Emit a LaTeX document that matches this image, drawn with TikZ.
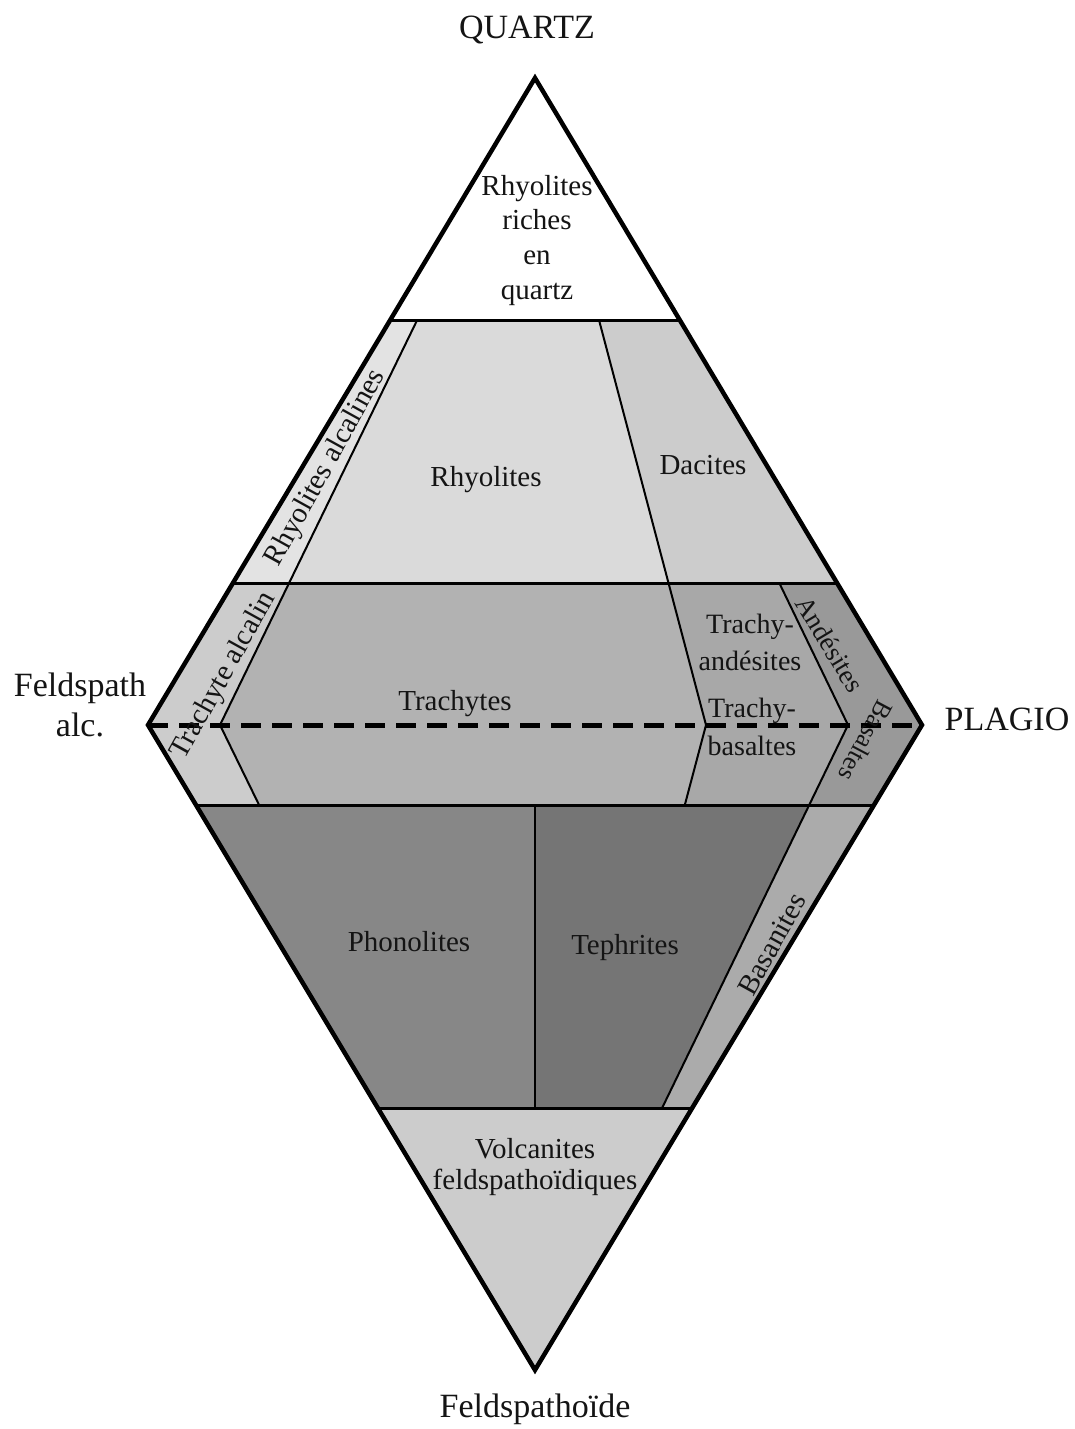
\documentclass[tikz,border=0pt]{standalone}
\usepackage{fontspec}
\setmainfont{Liberation Serif}
\definecolor{cQ}{gray}{1.0}
\definecolor{cRA}{gray}{0.89}
\definecolor{cR}{gray}{0.855}
\definecolor{cD}{gray}{0.80}
\definecolor{cTA}{gray}{0.80}
\definecolor{cT}{gray}{0.70}
\definecolor{cTB}{gray}{0.66}
\definecolor{cAB}{gray}{0.60}
\definecolor{cPh}{gray}{0.53}
\definecolor{cTe}{gray}{0.46}
\definecolor{cBa}{gray}{0.67}
\definecolor{cVF}{gray}{0.80}
\definecolor{ink}{gray}{0.08}
\begin{document}
\begin{tikzpicture}[x=1pt,y=-1pt,
  outer/.style={draw=black,line width=4.5pt,line join=miter},
  hline/.style={draw=black,line width=3pt},
  inner/.style={draw=black,line width=2pt},
  axisdash/.style={draw=black,line width=5pt,dash pattern=on 20pt off 11pt},
  corner/.style={text=ink,font=\fontsize{34}{40}\selectfont,inner sep=0pt},
  region/.style={text=ink,font=\fontsize{29}{34.7}\selectfont,inner sep=0pt,align=center}]
\useasboundingbox (0,0) rectangle (1074,1429);
\fill[white] (0,0) rectangle (1074,1429);
% apexes
\coordinate (Q) at (535,78);
\coordinate (A) at (148,725);
\coordinate (P) at (922,725);
\coordinate (F) at (535,1370);
% edge points
\coordinate (l320) at (390.25,320);
\coordinate (r320) at (679.75,320);
\coordinate (l583) at (232.9,583);
\coordinate (r583) at (837.1,583);
\coordinate (l805) at (196,805);
\coordinate (r805) at (874,805);
\coordinate (l1108) at (377.8,1108);
\coordinate (r1108) at (692.2,1108);
% points on the A-P axis
\coordinate (a10) at (220,725);
\coordinate (pd) at (706,725);
\coordinate (p90) at (848,725);
% inner line points
\coordinate (u1) at (417.2,320);
\coordinate (u2) at (289.1,583);
\coordinate (d1) at (599,320);
\coordinate (d2) at (668.5,583);
\coordinate (e1) at (779.3,583);
\coordinate (w1) at (259.1,805);
\coordinate (w2) at (684.8,805);
\coordinate (w3) at (809.2,805);
\coordinate (m805) at (535,805);
\coordinate (m1108) at (535,1108);
\coordinate (b1108) at (662.1,1108);
% fills
\fill[cQ] (Q) -- (l320) -- (r320) -- cycle;
\fill[cRA] (l320) -- (u1) -- (u2) -- (l583) -- cycle;
\fill[cR] (u1) -- (d1) -- (d2) -- (u2) -- cycle;
\fill[cD] (d1) -- (r320) -- (r583) -- (d2) -- cycle;
\fill[cTA] (l583) -- (u2) -- (a10) -- (w1) -- (l805) -- (A) -- cycle;
\fill[cT] (u2) -- (d2) -- (pd) -- (w2) -- (w1) -- (a10) -- cycle;
\fill[cTB] (d2) -- (e1) -- (p90) -- (w3) -- (w2) -- (pd) -- cycle;
\fill[cAB] (e1) -- (r583) -- (P) -- (r805) -- (w3) -- (p90) -- cycle;
\fill[cPh] (l805) -- (m805) -- (m1108) -- (l1108) -- cycle;
\fill[cTe] (m805) -- (w3) -- (b1108) -- (m1108) -- cycle;
\fill[cBa] (w3) -- (r805) -- (r1108) -- (b1108) -- cycle;
\fill[cVF] (l1108) -- (r1108) -- (F) -- cycle;
% inner boundaries
\draw[inner] (u1) -- (u2);
\draw[inner] (u2) -- (a10) -- (w1);
\draw[inner] (d1) -- (d2) -- (pd) -- (w2);
\draw[inner] (e1) -- (p90) -- (w3) -- (b1108);
\draw[inner] (m805) -- (m1108);
% horizontal boundaries
\draw[hline] (l320) -- (r320);
\draw[hline] (l583) -- (r583);
\draw[hline] (l805) -- (r805);
\draw[hline] (l1108) -- (r1108);
% outline
\draw[outer] (Q) -- (P) -- (F) -- (A) -- cycle;
% dashed axis
\draw[axisdash] (A) -- (P);
% corner labels
\node[corner,anchor=base] (qz) at (527,39) {QUARTZ};
\node[corner,align=center] (fa) at (80,705.4) {Feldspath\\alc.};
\node[corner,anchor=base] (pl) at (1007,730) {PLAGIO};
\node[corner,anchor=base] (fd) at (535,1417) {Feldspathoïde};
% region labels
\node[region] (rq) at (537,240.3) {Rhyolites\\riches\\en\\quartz};
\node[region,anchor=base] (rh) at (486,486) {Rhyolites};
\node[region,anchor=base] (da) at (703,474) {Dacites};
\node[region,rotate=61] (ra) at (326,468) {Rhyolites alcalines};
\node[region,rotate=61] (ta) at (224,676) {Trachyte alcalin};
\node[region,anchor=base] (tr) at (455,710) {Trachytes};
\node[region,font=\fontsize{28}{37}\selectfont] (tan) at (750,642.6) {Trachy-\\andésites};
\node[region,font=\fontsize{28}{38}\selectfont] (tba) at (752,727) {Trachy-\\basaltes};
\node[region,rotate=-59,font=\fontsize{27}{32}\selectfont] (an) at (830,644) {Andésites};
\node[region,rotate=-118,font=\fontsize{26}{31}\selectfont] (ba) at (866,741) {Basaltes};
\node[region,anchor=base] (ph) at (409,951) {Phonolites};
\node[region,anchor=base] (te) at (625,954) {Tephrites};
\node[region,rotate=61] (bs) at (772,944) {Basanites};
\node[region,font=\fontsize{29}{31}\selectfont] (vf) at (535,1166.7) {Volcanites\\feldspathoïdiques};
\end{tikzpicture}
\end{document}
